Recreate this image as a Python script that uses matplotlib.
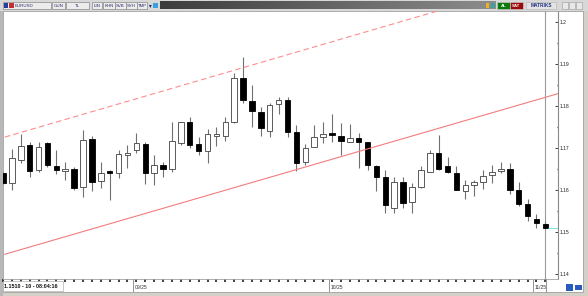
import matplotlib
matplotlib.use("Agg")
import matplotlib.pyplot as plt
from matplotlib.patches import Rectangle
from matplotlib.lines import Line2D
import matplotlib.transforms as mtransforms
import numpy as np

# daily EURUSD candles, first one is cut off by the left edge
opens = [1.1640, 1.1617, 1.1671, 1.1707, 1.1648, 1.1712, 1.1657, 1.1645, 1.1650, 1.1607,
         1.1721, 1.1621, 1.1645, 1.1641, 1.1684, 1.1695, 1.1710, 1.1641, 1.1660, 1.1650,
         1.1712, 1.1762, 1.1710, 1.1693, 1.1729, 1.1729, 1.1762, 1.1867, 1.1812, 1.1786,
         1.1741, 1.1805, 1.1814, 1.1738, 1.1667, 1.1702, 1.1726, 1.1736, 1.1729, 1.1714,
         1.1724, 1.1714, 1.1657, 1.1631, 1.1557, 1.1619, 1.1571, 1.1607, 1.1643, 1.1688,
         1.1657, 1.1641, 1.1598, 1.1612, 1.1619, 1.1636, 1.1645, 1.1650, 1.1600, 1.1567,
         1.1531, 1.1519]
highs = [1.1645, 1.1698, 1.1733, 1.1714, 1.1714, 1.1714, 1.1695, 1.1667, 1.1655, 1.1743,
         1.1729, 1.1667, 1.1648, 1.1695, 1.1707, 1.1736, 1.1714, 1.1683, 1.1667, 1.1762,
         1.1762, 1.1774, 1.1726, 1.1745, 1.1750, 1.1774, 1.1879, 1.1917, 1.1850, 1.1798,
         1.1807, 1.1821, 1.1821, 1.1755, 1.1710, 1.1755, 1.1762, 1.1781, 1.1760, 1.1757,
         1.1736, 1.1714, 1.1660, 1.1648, 1.1631, 1.1631, 1.1617, 1.1657, 1.1695, 1.1731,
         1.1679, 1.1657, 1.1624, 1.1624, 1.1648, 1.1660, 1.1667, 1.1664, 1.1619, 1.1579,
         1.1543, 1.1524]
lows = [1.1612, 1.1600, 1.1664, 1.1631, 1.1643, 1.1655, 1.1638, 1.1624, 1.1600, 1.1583,
        1.1598, 1.1605, 1.1576, 1.1629, 1.1652, 1.1688, 1.1614, 1.1612, 1.1631, 1.1643,
        1.1707, 1.1700, 1.1683, 1.1664, 1.1705, 1.1717, 1.1760, 1.1807, 1.1750, 1.1729,
        1.1726, 1.1781, 1.1726, 1.1645, 1.1660, 1.1702, 1.1712, 1.1714, 1.1683, 1.1714,
        1.1652, 1.1648, 1.1598, 1.1545, 1.1545, 1.1557, 1.1545, 1.1605, 1.1643, 1.1648,
        1.1641, 1.1600, 1.1579, 1.1586, 1.1602, 1.1617, 1.1641, 1.1590, 1.1562, 1.1526,
        1.1510, 1.1510]
closes = [1.1617, 1.1676, 1.1705, 1.1645, 1.1702, 1.1660, 1.1648, 1.1650, 1.1605, 1.1719,
          1.1619, 1.1641, 1.1641, 1.1686, 1.1688, 1.1712, 1.1641, 1.1660, 1.1650, 1.1717,
          1.1762, 1.1707, 1.1693, 1.1733, 1.1733, 1.1762, 1.1867, 1.1814, 1.1788, 1.1748,
          1.1802, 1.1814, 1.1738, 1.1664, 1.1700, 1.1726, 1.1733, 1.1731, 1.1717, 1.1724,
          1.1714, 1.1660, 1.1631, 1.1564, 1.1619, 1.1569, 1.1607, 1.1648, 1.1688, 1.1650,
          1.1643, 1.1600, 1.1612, 1.1619, 1.1633, 1.1643, 1.1650, 1.1600, 1.1567, 1.1538,
          1.1521, 1.1510]

month_labels = ["09/25", "10/25", "11/25"]
month_index = [15, 37, 60]

price_ticks = [1.14, 1.15, 1.16, 1.17, 1.18, 1.19, 1.20]
price_labels = ["1.14", "1.15", "1.16", "1.17", "1.18", "1.19", "1.2"]

# channel lines drawn by hand on the chart: (candle index, price)
upper_x = [0.2, 55.0]
upper_y = [1.1726, 1.2064]
lower_x = [0.2, 63.0]
lower_y = [1.1447, 1.1833]

status_text = "1.1510 - 10 - 08:04:16"

W, H = 588, 296
fig = plt.figure(figsize=(W / 100, H / 100), dpi=100, facecolor="#d4d0c8")
plt.rcParams['font.family'] = ['Liberation Sans', 'DejaVu Sans']


def box(x0, y0, x1, y1, z=5, **kw):
    r = Rectangle((x0 / W, 1 - y1 / H), (x1 - x0) / W, (y1 - y0) / H,
                  transform=fig.transFigure, zorder=z, **kw)
    fig.add_artist(r)


def ftext(x, y, s, **kw):
    fig.text(x / W, 1 - y / H, s, zorder=6, **kw)


# white chart panel + price axis area (behind the axes)
box(3, 11, 583, 292, z=-5, facecolor="white", edgecolor="#a0a0a0", lw=0.6)
box(0, 11, 3, 296, z=-4, facecolor="#b8b8b8", edgecolor="none")

# top toolbar
box(0, 0, W, 11, z=-5, facecolor="#d8d8d8", edgecolor="none")
gax = fig.add_axes([160 / W, 1 - 9.5 / H, (496 - 160) / W, 8.5 / H])
gax.imshow(np.linspace(0, 1, 200)[None, :], aspect="auto",
           cmap=matplotlib.colors.LinearSegmentedColormap.from_list("g", ["#3c3c3c", "#8c8c8c"]))
gax.axis("off")
tool_boxes = [(3, 51, "EURUSD"), (52, 65, "GUN"), (66, 89, "TL"), (92, 102, "LIN"),
              (103, 115, "KHN"), (115, 126, "SVB"), (126, 137, "SYH"), (137, 147, "TMP")]
for x0, x1, s in tool_boxes:
    box(x0, 2, x1, 9, facecolor="#ececec", edgecolor="#8a8a8a", lw=0.5)
    if s == "EURUSD":
        box(4, 3, 8, 8, facecolor="#2040a0", edgecolor="none")
        box(9, 3, 14, 8, facecolor="#c03030", edgecolor="none")
        ftext(15, 5.8, s, fontsize=3.2, color="#303070", va="center")
    else:
        ftext((x0 + x1) / 2, 5.8, s, fontsize=3.2, color="#303070", va="center", ha="center")
ftext(150, 5.8, "▾", fontsize=4, color="#202060", va="center", ha="center")
box(153, 3, 158, 8, facecolor="#3aa0e0", edgecolor="none")
box(486, 3, 489, 8, facecolor="#f0b020", edgecolor="none")
box(491, 3, 495, 8, facecolor="#40a0a0", edgecolor="none")
box(497, 2, 510, 9, facecolor="#0a7a0a", edgecolor="#d0d0d0", lw=0.4)
ftext(503.5, 5.8, "AL", fontsize=3.2, color="white", va="center", ha="center", weight="bold")
box(510, 2, 523, 9, facecolor="#9a0a0a", edgecolor="#d0d0d0", lw=0.4)
ftext(516.5, 5.8, "SAT", fontsize=3.2, color="white", va="center", ha="center", weight="bold")
box(526, 2, 556, 9, facecolor="#e4e4e4", edgecolor="#b0b0b0", lw=0.4)
ftext(541, 5.8, "MATRIKS", fontsize=3.4, color="#203080", va="center", ha="center", weight="bold")
for bx in (562, 569, 576):
    box(bx, 2.5, bx + 6, 8.5, facecolor="#e8e8e8", edgecolor="#9a9a9a", lw=0.4)

# main price axes
ax = fig.add_axes([3 / W, 1 - 279 / H, 555 / W, 268 / H])
ax.set_facecolor("white")
x = np.arange(len(opens))
o = np.array(opens)
hi = np.array(highs)
lo = np.array(lows)
c = np.array(closes)
up = c >= o
bottom = np.minimum(o, c)
height = np.maximum(np.abs(c - o), 0.00008)

ax.axvline(x[-1], color="#9a9a9a", lw=0.8, zorder=1)
ax.vlines(x, lo, hi, color="#707070", lw=0.8, zorder=2)
ax.bar(x[up], height[up], 0.62, bottom=bottom[up], facecolor="white",
       edgecolor="#404040", lw=0.6, zorder=3)
ax.bar(x[~up], height[~up], 0.62, bottom=bottom[~up], facecolor="black",
       edgecolor="black", lw=0.6, zorder=3)

ax.plot(upper_x, upper_y, color="#ff8c8c", lw=0.8, dashes=(5, 3), zorder=4)
ax.plot(lower_x, lower_y, color="#f47c7c", lw=0.8, zorder=4)
ax.hlines(closes[-1], x[-1] + 0.35, 63, color="#80e4e4", lw=0.8, zorder=4)

ax.set_xlim(0.27, 62.42)
ax.set_ylim(1.13881, 1.20262)

for side in ("left", "top", "bottom"):
    ax.spines[side].set_color("#a0a0a0")
    ax.spines[side].set_linewidth(0.6)
ax.spines["right"].set_color("#8a8a8a")
ax.spines["right"].set_linewidth(0.8)

ax.yaxis.tick_right()
ax.set_yticks(price_ticks, price_labels)
ax.set_yticks(np.array(price_ticks[:-1]) + 0.005, minor=True)
ax.tick_params(axis="y", which="major", direction="in", length=2.5, width=0.6,
               pad=1.5, labelsize=3.6, colors="#202020")
ax.tick_params(axis="y", which="minor", direction="in", length=1, width=1, colors="#404040")

ax.set_xticks(x)
ax.set_xticklabels([])
ax.tick_params(axis="x", which="major", direction="out", length=2, width=1.2,
               colors="#202020", pad=0)

trans = mtransforms.blended_transform_factory(ax.transData, ax.transAxes)
for idx, lab in zip(month_index, month_labels):
    ax.plot([idx - 0.35, idx - 0.35], [0, -12 / 268], transform=trans, color="#808080",
            lw=0.6, clip_on=False)
    ax.text(idx - 0.2, -8.5 / 268, lab, transform=trans, fontsize=3.6, color="#303030",
            va="center", ha="left")

# vertical marker line continuing through the bottom strip
fig.add_artist(Line2D([546 / W, 546 / W], [1 - 279 / H, 1 - 292 / H], color="#9a9a9a", lw=0.8))

# status box bottom-left
box(3, 281, 63, 291, facecolor="white", edgecolor="#b0b0b0", lw=0.5)
ftext(4, 286.3, status_text, fontsize=3.9, color="#101010", va="center", weight="bold")

# little buttons bottom-right
box(566, 284, 573, 291, facecolor="#2a5cc0", edgecolor="none")
box(575, 285, 582, 290, facecolor="#2a5cc0", edgecolor="none")

fig.savefig("out.png", dpi=100, facecolor=fig.get_facecolor())
